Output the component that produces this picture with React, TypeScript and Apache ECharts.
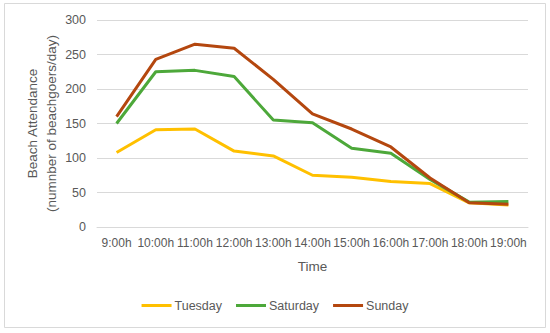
import React, { useEffect, useRef } from "react";
import * as echarts from "echarts";

const categories = ["9:00h", "10:00h", "11:00h", "12:00h", "13:00h", "14:00h", "15:00h", "16:00h", "17:00h", "18:00h", "19:00h"];
const tuesday = [108, 141, 142, 110, 103, 75, 72, 66, 63, 35, 32];
const saturday = [150, 225, 227, 218, 155, 151, 114, 107, 69, 36, 37];
const sunday = [160, 243, 265, 259, 214, 164, 142, 116, 71, 35, 33];

const FONT = "'Liberation Sans', 'DejaVu Sans', sans-serif";
const TXT = "#595959";

export default function App() {
  const ref = useRef<HTMLDivElement>(null);
  useEffect(() => {
    document.body.style.margin = "0";
    const chart = echarts.init(ref.current!, null, { renderer: "svg" });
    const mk = (name: string, data: number[], color: string) => ({
      name,
      type: "line",
      data,
      symbol: "none",
      lineStyle: { color, width: 3 },
      itemStyle: { color },
    });
    chart.setOption({
      animation: false,
      backgroundColor: "#fff",
      textStyle: { fontFamily: FONT },
      graphic: [
        {
          type: "rect",
          shape: { x: 4.5, y: 3.5, width: 541, height: 324 },
          style: { fill: "none", stroke: "#d9d9d9", lineWidth: 1 },
          silent: true,
        },
      ],
      grid: { left: 97, right: 22, top: 20, bottom: 106, containLabel: false },
      legend: {
        bottom: 16,
        left: "center",
        itemWidth: 30,
        itemHeight: 3,
        itemGap: 14,
        icon: "rect",
        textStyle: { color: TXT, fontSize: 12.5, fontFamily: FONT, padding: [0, 0, 0, -2] },
        data: ["Tuesday", "Saturday", "Sunday"],
      },
      xAxis: {
        type: "category",
        data: categories,
        boundaryGap: true,
        name: "Time",
        nameLocation: "middle",
        nameGap: 32,
        nameMoveOverlap: false,
        nameTextStyle: { color: TXT, fontSize: 13.5, fontFamily: FONT },
        axisLine: { lineStyle: { color: "#d9d9d9" } },
        axisTick: { show: false },
        axisLabel: { color: TXT, fontSize: 12, interval: 0, margin: 10, fontFamily: FONT },
      },
      yAxis: {
        type: "value",
        min: 0,
        max: 300,
        interval: 50,
        name: "Beach Attendance\n(numnber of beachgoers/day)",
        nameLocation: "middle",
        nameGap: 36,
        nameMoveOverlap: false,
        nameTextStyle: { color: TXT, fontSize: 13.5, lineHeight: 19, fontFamily: FONT },
        axisLine: { show: false },
        axisTick: { show: false },
        axisLabel: { color: TXT, fontSize: 12.5, margin: 11, fontFamily: FONT },
        splitLine: { lineStyle: { color: "#d9d9d9" } },
      },
      series: [
        mk("Tuesday", tuesday, "#FFC000"),
        mk("Saturday", saturday, "#4DA83A"),
        mk("Sunday", sunday, "#B4470F"),
      ],
    });
    return () => chart.dispose();
  }, []);
  return <div ref={ref} style={{ width: 550, height: 333 }} />;
}
